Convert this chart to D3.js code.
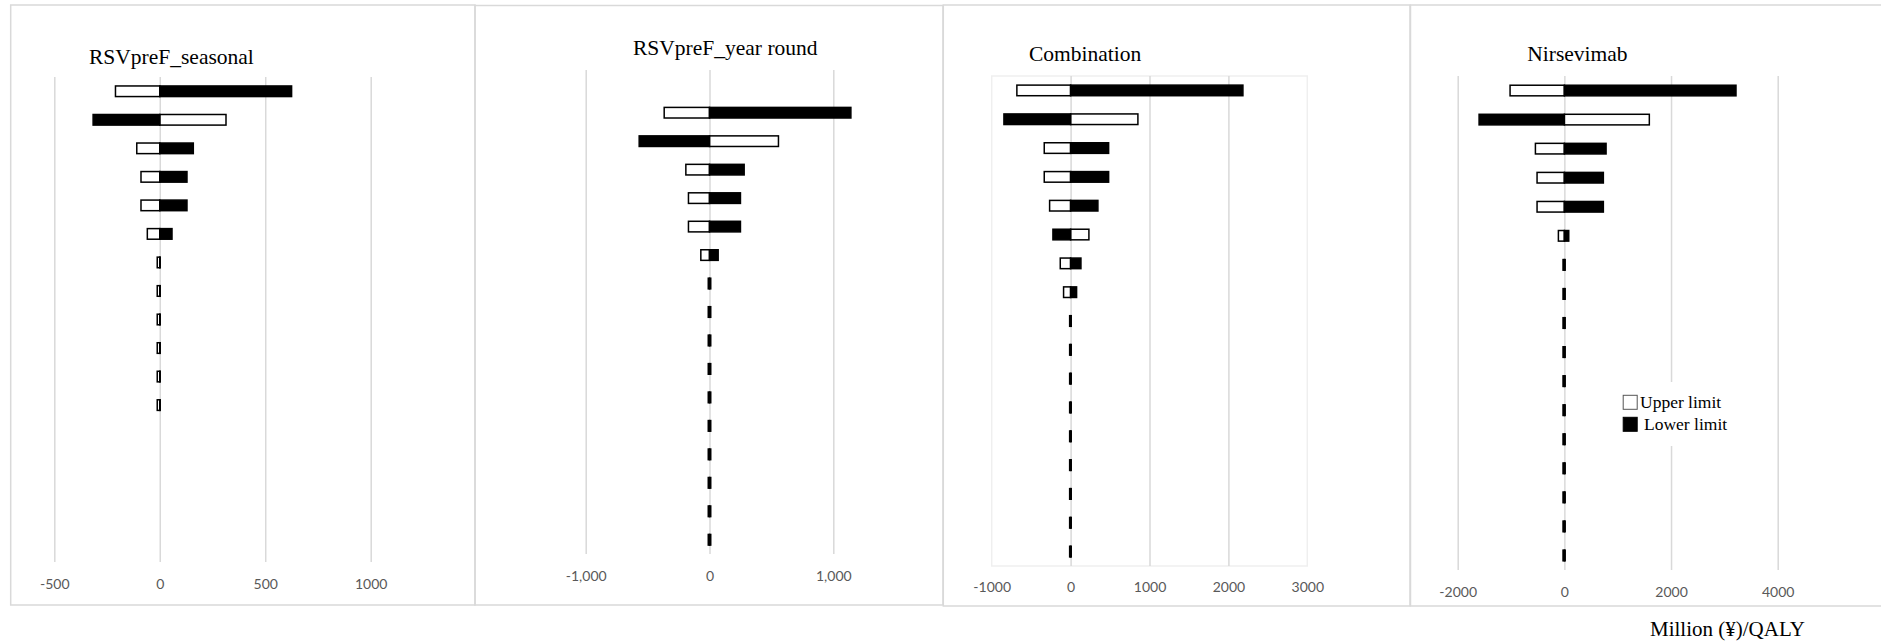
<!DOCTYPE html>
<html>
<head>
<meta charset="utf-8">
<script src="https://cdn.jsdelivr.net/npm/d3@7"></script>
<style>
  html, body { margin: 0; padding: 0; background: #fff; }
  svg { display: block; }
</style>
</head>
<body>
<svg id="chart" width="1881" height="643"></svg>
<script>
// Parameters varied in the one-way sensitivity analysis (rows, top to bottom)
const parameters = ["1","2","3","4","5","6","7","8","9","10","11","12","13","14","15","16","17"];

// ICER (million yen per QALY) at each parameter's upper and lower limit
const seasonalUpper = [-210, 314, -109, -89, -89, -59, -12, -12, -12, -12, -12, -12, null, null, null, null, null];
const seasonalLower = [625, -316, 159, 129, 129, 58, 2, 2, 2, 2, 2, 2, null, null, null, null, null];

const yearRoundUpper = [null, -366, 557, -191, -170, -170, -70, -10, -10, -10, -10, -10, -10, -10, -10, -10, -10];
const yearRoundLower = [null, 1142, -568, 280, 250, 250, 70, 10, 10, 10, 10, 10, 10, 10, 10, 10, 10];

const combinationUpper = [-681, 853, -334, -334, -266, 232, -131, -89, -12, -12, -12, -12, -12, -12, -12, -12, -12];
const combinationLower = [2184, -845, 482, 482, 346, -224, 131, 76, 8, 8, 8, 8, 8, 8, 8, 8, 8];

const nirsevimabUpper = [-1018, 1593, -543, -512, -512, -112, -25, -25, -25, -25, -25, -25, -25, -25, -25, -25, -25];
const nirsevimabLower = [3218, -1599, 782, 731, 731, 82, 15, 15, 15, 15, 15, 15, 15, 15, 15, 15, 15];

// Axis ticks per panel
const seasonalTicks = [-500, 0, 500, 1000];
const yearRoundTicks = [-1000, 0, 1000];
const combinationTicks = [-1000, 0, 1000, 2000, 3000];
const nirsevimabTicks = [-2000, 0, 2000, 4000];

const titles = ["RSVpreF_seasonal", "RSVpreF_year round", "Combination", "Nirsevimab"];
const legendLabels = ["Upper limit", "Lower limit"];
const unitLabel = "Million (\u00A5)/QALY";

// Number formats: plain and thousands-grouped, both with an ASCII hyphen for minus
const locale = d3.formatLocale({decimal: ".", thousands: ",", grouping: [3], currency: ["", ""], minus: "-"});
const plainFmt = locale.format("d");
const groupFmt = locale.format(",d");

// Panel layout
const panels = [
  { title: titles[0], upper: seasonalUpper, lower: seasonalLower, ticks: seasonalTicks, fmt: plainFmt,
    frame: [10.7, 5, 475, 605], dom: [-500, 1000], xr: [54.3, 370.7], yr: [77, 562], pad: 17,
    titleX: 89, titleY: 64, anchor: "start", innerBox: false },
  { title: titles[1], upper: yearRoundUpper, lower: yearRoundLower, ticks: yearRoundTicks, fmt: groupFmt,
    frame: [475, 5.5, 943, 605], dom: [-1000, 1000], xr: [585.7, 833.3], yr: [70, 554], pad: 17,
    titleX: 725.3, titleY: 55, anchor: "middle", innerBox: false },
  { title: titles[2], upper: combinationUpper, lower: combinationLower, ticks: combinationTicks, fmt: plainFmt,
    frame: [943.3, 5, 1410, 606], dom: [-1000, 3000], xr: [991.7, 1307.3], yr: [76, 566], pad: 16.3,
    titleX: 1029, titleY: 60.5, anchor: "start", innerBox: true },
  { title: titles[3], upper: nirsevimabUpper, lower: nirsevimabLower, ticks: nirsevimabTicks, fmt: plainFmt,
    frame: [1410.5, 5, 1895, 606], dom: [-2000, 4000], xr: [1457.7, 1777.7], yr: [76, 570], pad: 17.3,
    titleX: 1527.3, titleY: 60.5, anchor: "start", innerBox: false }
];

const svg = d3.select("#chart");
const barH = 10.6;

panels.forEach((p, pi) => {
  const g = svg.append("g");

  // Panel frame
  g.append("rect")
    .attr("x", p.frame[0]).attr("y", p.frame[1])
    .attr("width", p.frame[2] - p.frame[0]).attr("height", p.frame[3] - p.frame[1])
    .attr("fill", "none").attr("stroke", "#d9d9d9").attr("stroke-width", 1.5);

  const x = d3.scaleLinear().domain(p.dom).range(p.xr);
  const step = (p.yr[1] - p.yr[0]) / parameters.length;
  const pad = 1 - barH / step;
  const y = d3.scaleBand().domain(parameters).range(p.yr).paddingInner(pad).paddingOuter(pad / 2);

  if (p.innerBox) {
    g.append("rect")
      .attr("x", p.xr[0]).attr("y", p.yr[0])
      .attr("width", p.xr[1] - p.xr[0]).attr("height", p.yr[1] - p.yr[0])
      .attr("fill", "none").attr("stroke", "#efefef").attr("stroke-width", 1.5);
  }

  // Vertical gridlines and tick labels
  const axis = g.append("g")
    .attr("transform", `translate(0,${p.yr[1]})`)
    .call(d3.axisBottom(x).tickValues(p.ticks).tickFormat(p.fmt)
      .tickSize(-(p.yr[1] - p.yr[0])).tickPadding(p.pad));
  axis.select(".domain").remove();
  axis.selectAll(".tick line")
    .attr("stroke", d => (p.innerBox && (d === p.dom[0] || d === p.dom[1])) ? "none" : "#d9d9d9")
    .attr("stroke-width", 1.5);
  axis.selectAll(".tick text")
    .attr("fill", "#595959")
    .style("font-family", "Lato, 'Open Sans', sans-serif")
    .style("font-size", "14px");

  // Title
  g.append("text")
    .attr("x", p.titleX).attr("y", p.titleY)
    .attr("text-anchor", p.anchor)
    .style("font-family", "'Liberation Serif', 'Times New Roman', serif")
    .style("font-size", "21.5px")
    .attr("fill", "#000")
    .text(p.title);

  const rows = parameters.map((k, i) => ({ k, up: p.upper[i], lo: p.lower[i] }))
    .filter(d => d.up !== null && d.lo !== null);

  // Upper-limit bars (white with black outline)
  g.selectAll(".up").data(rows).enter().append("rect")
    .attr("class", "up")
    .attr("x", d => Math.min(x(0), x(d.up)))
    .attr("width", d => Math.abs(x(d.up) - x(0)))
    .attr("y", d => y(d.k))
    .attr("height", y.bandwidth())
    .attr("fill", "#fff").attr("stroke", "#000").attr("stroke-width", 1.5);

  // Lower-limit bars (solid black)
  g.selectAll(".lo").data(rows).enter().append("rect")
    .attr("class", "lo")
    .attr("x", d => Math.min(x(0), x(d.lo)))
    .attr("width", d => Math.abs(x(d.lo) - x(0)))
    .attr("y", d => y(d.k))
    .attr("height", y.bandwidth())
    .attr("fill", "#000").attr("stroke", "#000").attr("stroke-width", 1.5);

  // Legend inside the last panel
  if (pi === panels.length - 1) {
    const lg = g.append("g").attr("transform", "translate(1622.7,382)");
    lg.append("rect").attr("x", -4).attr("y", 0).attr("width", 108).attr("height", 64).attr("fill", "#fff");
    legendLabels.forEach((lab, li) => {
      const cy = 20.3 + li * 22;
      lg.append("rect")
        .attr("x", 0.5).attr("y", cy - 7).attr("width", 14).attr("height", 14)
        .attr("fill", li === 0 ? "#fff" : "#000")
        .attr("stroke", li === 0 ? "#555" : "#000").attr("stroke-width", 1);
      lg.append("text")
        .attr("x", li === 0 ? 17.3 : 21.3).attr("y", cy + 6)
        .style("font-family", "'Liberation Serif', 'Times New Roman', serif")
        .style("font-size", "17.5px")
        .attr("fill", "#000")
        .text(lab);
    });
  }
});

// Unit label under the last panel
svg.append("text")
  .attr("x", 1650).attr("y", 636)
  .style("font-family", "'Liberation Serif', 'Times New Roman', serif")
  .style("font-size", "21px")
  .attr("fill", "#000")
  .text(unitLabel);
</script>
</body>
</html>
